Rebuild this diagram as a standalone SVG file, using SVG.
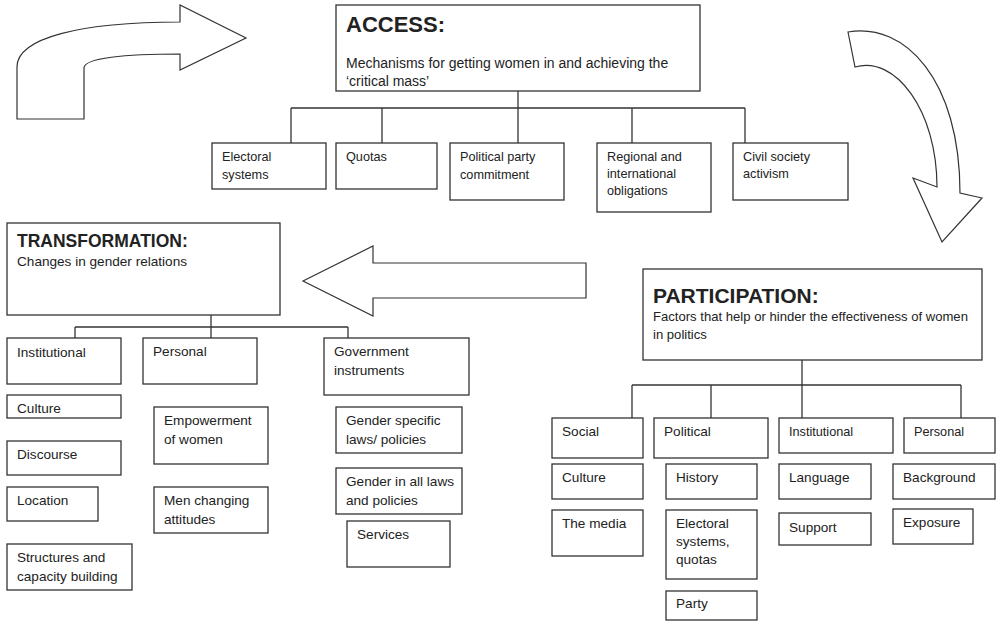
<svg xmlns="http://www.w3.org/2000/svg" width="996" height="621" viewBox="0 0 996 621">
<style>
rect{fill:#fff;stroke:#333;stroke-width:1.3}
.arrow{fill:#fff;stroke:#333;stroke-width:1.2;stroke-linejoin:miter}
.conn line{stroke:#333;stroke-width:1.3;fill:none}
text{font-family:"Liberation Sans",Arial,sans-serif;fill:#222;font-size:13px}
.t1{font-weight:bold;font-size:22px}
.t2{font-weight:bold;font-size:21px}
.t3{font-weight:bold;font-size:17.5px}
.sub{font-size:14px}
.psub{font-size:13.1px}
.s{font-size:12.7px}
.m{font-size:13.6px}
.sm{font-size:12.7px}
</style>
<rect x="0" y="0" width="996" height="621" style="fill:#fff;stroke:none"/>

<g id="arrows">
<path class="arrow" d="M17,119 L17,67 C17,38 80,22 180,22 L180,5 L246,38 L180,70 L180,54 C125,54 84,58 84,68 L84,119 Z"/>
<path class="arrow" d="M848,32 L855,67 C895,55 937,110 937,187 L913,178 L942,242 L982,198 L960,193 C960,80 905,22 848,32 Z"/>
<path class="arrow" d="M303,281 L373,246 L373,263 L586,263 L586,298 L373,298 L373,316 Z"/>
</g>

<g class="conn" id="connectors">
<line x1="518" y1="91" x2="518" y2="108"/>
<line x1="291" y1="108" x2="745" y2="108"/>
<line x1="291" y1="108" x2="291" y2="143"/>
<line x1="382" y1="108" x2="382" y2="143"/>
<line x1="518" y1="108" x2="518" y2="143"/>
<line x1="632" y1="108" x2="632" y2="143"/>
<line x1="745" y1="108" x2="745" y2="143"/>

<line x1="211" y1="315" x2="211" y2="327"/>
<line x1="75" y1="327" x2="348" y2="327"/>
<line x1="75" y1="327" x2="75" y2="338"/>
<line x1="211" y1="327" x2="211" y2="338"/>
<line x1="348" y1="327" x2="348" y2="338"/>

<line x1="802" y1="360" x2="802" y2="385"/>
<line x1="632" y1="385" x2="961" y2="385"/>
<line x1="632" y1="385" x2="632" y2="418"/>
<line x1="711" y1="385" x2="711" y2="418"/>
<line x1="802" y1="385" x2="802" y2="418"/>
<line x1="961" y1="385" x2="961" y2="418"/>
</g>

<g id="access">
<rect x="336" y="5" width="364" height="86"/>
<text class="t1" x="346" y="32">ACCESS:</text>
<text class="sub" x="346" y="68">Mechanisms for getting women in and achieving the</text>
<text class="sub" x="346" y="86">‘critical mass’</text>
</g>
<g id="electoral-systems">
<rect x="212" y="143" width="114" height="46"/>
<text class="s" x="222" y="161">Electoral</text>
<text class="s" x="222" y="179">systems</text>
</g>
<g id="quotas">
<rect x="336" y="143" width="101" height="46"/>
<text class="s" x="346" y="161">Quotas</text>
</g>
<g id="political-party">
<rect x="450" y="143" width="114" height="57"/>
<text class="s" x="460" y="161">Political party</text>
<text class="s" x="460" y="179">commitment</text>
</g>
<g id="regional">
<rect x="597" y="143" width="114" height="69"/>
<text class="s" x="607" y="161">Regional and</text>
<text class="s" x="607" y="178">international</text>
<text class="s" x="607" y="195">obligations</text>
</g>
<g id="civil-society">
<rect x="733" y="143" width="115" height="57"/>
<text class="s" x="743" y="161">Civil society</text>
<text class="s" x="743" y="178">activism</text>
</g>

<g id="transformation">
<rect x="7" y="223" width="273" height="92"/>
<text class="t3" x="17" y="247">TRANSFORMATION:</text>
<text class="m" x="17" y="266">Changes in gender relations</text>
</g>
<g id="t-institutional">
<rect x="7" y="338" width="114" height="46"/>
<text class="m" x="17" y="357">Institutional</text>
</g>
<g id="t-personal">
<rect x="143" y="338" width="114" height="46"/>
<text class="m" x="153" y="356">Personal</text>
</g>
<g id="t-government">
<rect x="324" y="338" width="145" height="57"/>
<text class="m" x="334" y="356">Government</text>
<text class="m" x="334" y="375">instruments</text>
</g>
<g id="t-culture">
<rect x="7" y="395" width="114" height="23"/>
<text class="m" x="17" y="413">Culture</text>
</g>
<g id="t-discourse">
<rect x="7" y="441" width="114" height="34"/>
<text class="m" x="17" y="459">Discourse</text>
</g>
<g id="t-location">
<rect x="7" y="487" width="91" height="34"/>
<text class="m" x="17" y="505">Location</text>
</g>
<g id="t-structures">
<rect x="7" y="544" width="125" height="46"/>
<text class="m" x="17" y="562">Structures and</text>
<text class="m" x="17" y="581">capacity building</text>
</g>
<g id="t-empowerment">
<rect x="154" y="407" width="114" height="57"/>
<text class="m" x="164" y="425">Empowerment</text>
<text class="m" x="164" y="444">of women</text>
</g>
<g id="t-men">
<rect x="154" y="487" width="114" height="46"/>
<text class="m" x="164" y="505">Men changing</text>
<text class="m" x="164" y="524">attitudes</text>
</g>
<g id="t-gender-specific">
<rect x="336" y="407" width="126" height="46"/>
<text class="m" x="346" y="425">Gender specific</text>
<text class="m" x="346" y="444">laws/ policies</text>
</g>
<g id="t-gender-all">
<rect x="336" y="468" width="126" height="46"/>
<text class="m" x="346" y="486">Gender in all laws</text>
<text class="m" x="346" y="505">and policies</text>
</g>
<g id="t-services">
<rect x="347" y="521" width="103" height="46"/>
<text class="m" x="357" y="539">Services</text>
</g>

<g id="participation">
<rect x="643" y="269" width="339" height="91"/>
<text class="t2" x="653" y="303">PARTICIPATION:</text>
<text class="psub" x="653" y="321">Factors that help or hinder the effectiveness of women</text>
<text class="psub" x="653" y="339">in politics</text>
</g>
<g id="p-social">
<rect x="552" y="418" width="91" height="40"/>
<text class="m" x="562" y="436">Social</text>
</g>
<g id="p-political">
<rect x="654" y="418" width="114" height="40"/>
<text class="m" x="664" y="436">Political</text>
</g>
<g id="p-institutional">
<rect x="779" y="418" width="114" height="35"/>
<text class="sm" x="789" y="436">Institutional</text>
</g>
<g id="p-personal">
<rect x="904" y="418" width="91" height="35"/>
<text class="sm" x="914" y="436">Personal</text>
</g>
<g id="p-culture">
<rect x="552" y="464" width="91" height="35"/>
<text class="m" x="562" y="482">Culture</text>
</g>
<g id="p-history">
<rect x="666" y="464" width="91" height="35"/>
<text class="m" x="676" y="482">History</text>
</g>
<g id="p-language">
<rect x="779" y="464" width="92" height="35"/>
<text class="m" x="789" y="482">Language</text>
</g>
<g id="p-background">
<rect x="893" y="464" width="102" height="35"/>
<text class="m" x="903" y="482">Background</text>
</g>
<g id="p-media">
<rect x="552" y="510" width="91" height="46"/>
<text class="m" x="562" y="528">The media</text>
</g>
<g id="p-electoral">
<rect x="666" y="510" width="91" height="69"/>
<text class="m" x="676" y="528">Electoral</text>
<text class="m" x="676" y="546">systems,</text>
<text class="m" x="676" y="564">quotas</text>
</g>
<g id="p-support">
<rect x="779" y="513" width="92" height="32"/>
<text class="m" x="789" y="532">Support</text>
</g>
<g id="p-exposure">
<rect x="893" y="509" width="80" height="35"/>
<text class="m" x="903" y="527">Exposure</text>
</g>
<g id="p-party">
<rect x="666" y="591" width="91" height="29"/>
<text class="m" x="676" y="608">Party</text>
</g>
</svg>
